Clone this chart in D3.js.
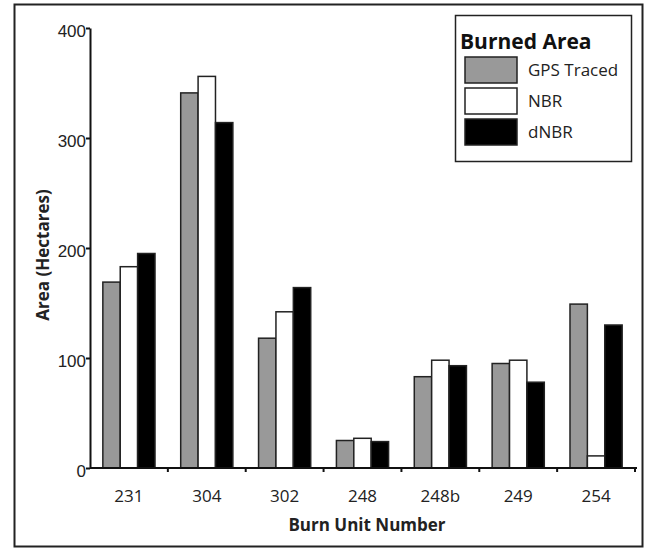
<!DOCTYPE html>
<html>
<head>
<meta charset="utf-8">
<script src="https://cdn.jsdelivr.net/npm/d3@7"></script>
<style>
    body { margin: 0; background: #fff; }
    svg { display: block; font-family: "Open Sans", sans-serif; }
</style>
</head>
<body>
<div id="chart"></div>
<script>

// burn units and the three burned area estimates (hectares)
let units = ['231', '304', '302', '248', '248b', '249', '254'];
let series = ['GPS Traced', 'NBR', 'dNBR'];
let gpsTraced = [169, 341, 118, 25, 83, 95, 149];
let nbr = [183, 356, 142, 27, 98, 98, 11];
let dnbr = [195, 314, 164, 24, 93, 78, 130];
let yTicks = [0, 100, 200, 300, 400];

let colors = ['#999999', '#ffffff', '#000000'];

let width = 645, height = 549;
let margin = {top: 28, right: 10, bottom: 81, left: 90};

let svg = d3.select('#chart').append('svg')
    .attr('width', width)
    .attr('height', height);

// outer frame
svg.append('rect')
    .attr('x', 14.5).attr('y', 4.5)
    .attr('width', 628).attr('height', 542)
    .attr('fill', 'none')
    .attr('stroke', '#222')
    .attr('stroke-width', 2);

let x0 = d3.scaleBand()
    .domain(units)
    .range([margin.left, 635])
    .paddingInner(0.33)
    .paddingOuter(0.165);

let x1 = d3.scaleBand()
    .domain(series)
    .range([0, x0.bandwidth()]);

let y = d3.scaleLinear()
    .domain([0, 400])
    .range([468, margin.top]);

let rows = units.map((u, i) => ({unit: u, values: [gpsTraced[i], nbr[i], dnbr[i]]}));

// bars
let groups = svg.selectAll('.group')
    .data(rows)
    .enter().append('g')
    .attr('class', 'group')
    .attr('transform', d => `translate(${x0(d.unit)},0)`);

groups.selectAll('rect')
    .data(d => d.values.map((v, i) => ({key: series[i], value: v, color: colors[i]})))
    .enter().append('rect')
    .attr('x', d => x1(d.key))
    .attr('y', d => y(d.value))
    .attr('width', x1.bandwidth())
    .attr('height', d => y(0) - y(d.value))
    .attr('fill', d => d.color)
    .attr('stroke', '#222')
    .attr('stroke-width', 1.5);

// y axis
let yAxis = d3.axisLeft(y).tickValues(yTicks).tickSize(4).tickSizeOuter(0);
let gy = svg.append('g')
    .attr('transform', `translate(${margin.left},0)`)
    .call(yAxis);
gy.select('.domain').attr('stroke', '#111').attr('stroke-width', 2);
gy.selectAll('.tick line').attr('stroke', '#111').attr('stroke-width', 2);
gy.selectAll('.tick text')
    .attr('x', -4)
    .attr('dy', '0.5em')
    .attr('font-size', 17)
    .attr('fill', '#222');

// x axis, ticks sit between units
let xEdge = d3.scaleLinear().domain([0, units.length]).range([margin.left, 635]);
let gx = svg.append('g')
    .attr('transform', `translate(0,${y(0)})`);
gx.append('line')
    .attr('x1', margin.left).attr('x2', 637)
    .attr('stroke', '#111').attr('stroke-width', 2);
gx.selectAll('.xtick')
    .data(d3.range(1, units.length + 1))
    .enter().append('line')
    .attr('x1', d => xEdge(d)).attr('x2', d => xEdge(d))
    .attr('y1', 0).attr('y2', 4)
    .attr('stroke', '#111').attr('stroke-width', 2);
gx.selectAll('.xlabel')
    .data(units)
    .enter().append('text')
    .attr('x', d => x0(d) + x0.bandwidth() / 2)
    .attr('y', 34)
    .attr('text-anchor', 'middle')
    .attr('font-size', 17)
    .attr('fill', '#222')
    .text(d => d);

// axis titles
svg.append('text')
    .attr('x', 367).attr('y', 531)
    .attr('text-anchor', 'middle')
    .attr('font-size', 17)
    .attr('font-weight', 'bold')
    .attr('fill', '#222')
    .text('Burn Unit Number');

svg.append('text')
    .attr('transform', 'translate(49,255) rotate(-90)')
    .attr('text-anchor', 'middle')
    .attr('font-size', 17)
    .attr('font-weight', 'bold')
    .attr('fill', '#222')
    .text('Area (Hectares)');

// legend
let legend = svg.append('g');
legend.append('rect')
    .attr('x', 455.5).attr('y', 15.5)
    .attr('width', 176).attr('height', 146)
    .attr('fill', '#fff')
    .attr('stroke', '#222')
    .attr('stroke-width', 1.5);
legend.append('text')
    .attr('x', 460).attr('y', 49)
    .attr('font-size', 21)
    .attr('font-weight', 'bold')
    .attr('fill', '#111')
    .text('Burned Area');

let items = legend.selectAll('.item')
    .data(series)
    .enter().append('g')
    .attr('transform', (d, i) => `translate(465,${57 + i * 31})`);
items.append('rect')
    .attr('width', 52).attr('height', 26)
    .attr('fill', (d, i) => colors[i])
    .attr('stroke', '#222')
    .attr('stroke-width', 1.5);
items.append('text')
    .attr('x', 63).attr('y', 19)
    .attr('font-size', 17)
    .attr('fill', '#222')
    .text(d => d);

</script>
</body>
</html>
